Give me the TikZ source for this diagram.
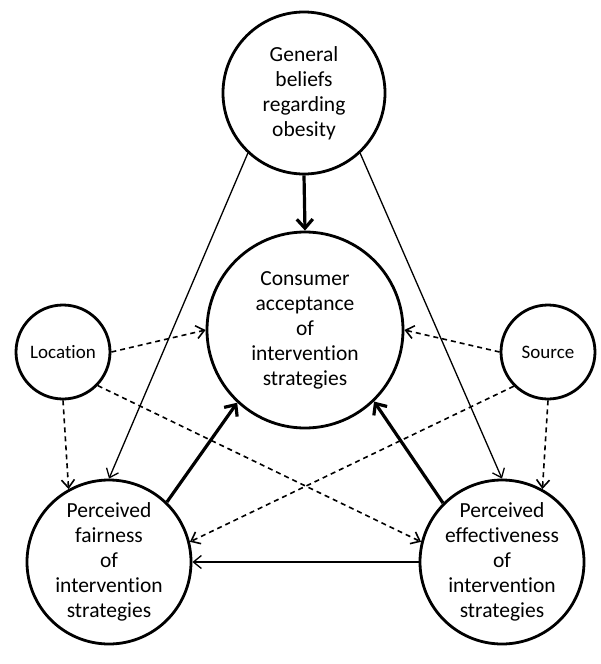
\documentclass[tikz,border=0pt]{standalone}
\usepackage{fontspec}
\setmainfont[Ligatures=NoCommon]{Carlito}
\usetikzlibrary{arrows.meta}
\begin{document}
\begin{tikzpicture}[x=1pt,y=-1pt,
  bub/.style={draw,circle,line width=2.8pt,inner sep=-12pt,align=center,
    font=\fontsize{21.5}{25}\selectfont},
  small/.style={draw,circle,line width=2.8pt,inner sep=0pt,minimum size=94pt,
    font=\fontsize{19}{22}\selectfont},
  thin/.style={line width=1.3pt,-{Straight Barb[length=8pt,width=13pt]}},
  dsh/.style={line width=1.6pt,dash pattern=on 5pt off 4pt,-{Straight Barb[length=8pt,width=13pt]}},
  thick/.style={line width=3.2pt,-{Straight Barb[length=9pt,width=16pt]}}]
\useasboundingbox (0,0) rectangle (600,664);
\node[bub,minimum size=162pt] (top) at (304,93) {General\\beliefs\\regarding\\obesity};
\node[bub,minimum size=196pt] (acc) at (305,330) {Consumer\\acceptance\\of\\intervention\\strategies};
\node[small] (loc) at (63,352) {Location};
\node[small] (src) at (548,352) {Source};
\node[bub,minimum size=164pt] (fair) at (109,562) {Perceived\\fairness\\of\\intervention\\strategies};
\node[bub,minimum size=164pt] (eff) at (502,562) {Perceived\\effectiveness\\of\\intervention\\strategies};
\draw[thick] (top.south) -- (acc.north);
\draw[thin] (top.227) -- (fair.north);
\draw[thin] (top.313) -- (eff.north);
\draw[dsh] (loc.east) -- (acc.west);
\draw[dsh] (loc.316) -- (eff.166);
\draw[dsh] (loc.south) -- (fair.119);
\draw[dsh] (src.west) -- (acc.east);
\draw[dsh] (src.225) -- (fair.14);
\draw[dsh] (src.south) -- (eff.61);
\draw[thick] (fair.46) -- (acc.227);
\draw[thick] (eff.135) -- (acc.314);
\draw[thin] (eff.west) -- (fair.east);
\end{tikzpicture}
\end{document}
